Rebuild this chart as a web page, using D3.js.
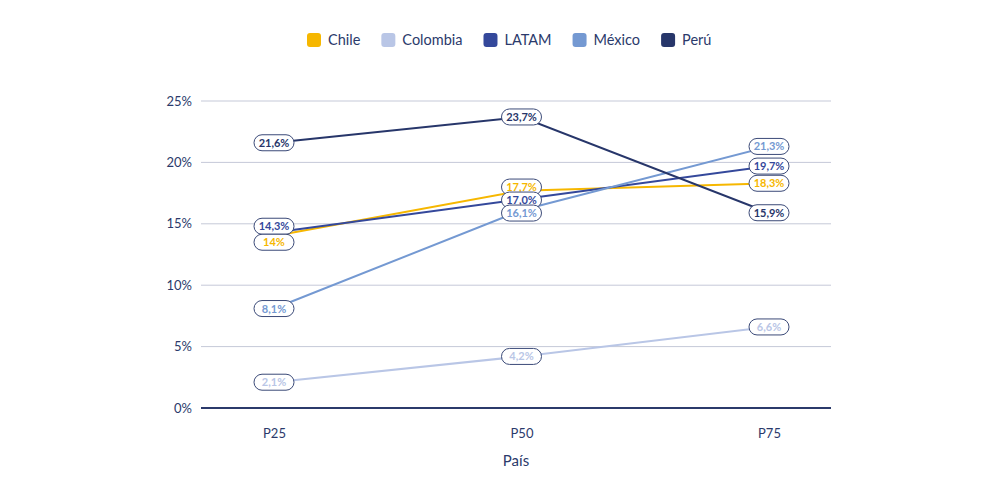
<!DOCTYPE html>
<html>
<head>
<meta charset="utf-8">
<script src="https://cdn.jsdelivr.net/npm/d3@7"></script>
<style>
	body{margin:0;background:#fff;font-family:Lato,"Open Sans",sans-serif;}
</style>
</head>
<body>
<div id="chart-area"></div>
<script>
// data
const categories = ["P25","P50","P75"]
const seriesNames = ["Chile","Colombia","LATAM","México","Perú"]
const chile = [14.0,17.7,18.3]
const colombia = [2.1,4.2,6.6]
const latam = [14.3,17.0,19.7]
const mexico = [8.1,16.1,21.3]
const peru = [21.6,23.7,15.9]
const yTicks = [0,5,10,15,20,25]
const colors = ["#f6b700","#b9c6e6","#34489b","#7499d2","#27366a"]

const series = seriesNames.map((name,i)=>({
	name:name,
	color:colors[i],
	values:[chile,colombia,latam,mexico,peru][i]
}))

const WIDTH = 1000
const HEIGHT = 500
const TEXT = "#2b3a6b"

const svg = d3.select("#chart-area").append("svg")
	.attr("width",WIDTH)
	.attr("height",HEIGHT)

const x = d3.scalePoint()
	.domain(categories)
	.range([274,769])

const y = d3.scaleLinear()
	.domain([0,25])
	.range([408,101])

// gridlines
svg.append("g").selectAll("line")
	.data(yTicks.filter(d=>d>0))
	.enter().append("line")
	.attr("x1",201).attr("x2",831)
	.attr("y1",d=>y(d)).attr("y2",d=>y(d))
	.attr("stroke","#c5c9d8")
	.attr("stroke-width",1)

// y axis labels
const yAxisGroup = svg.append("g")
	.attr("transform","translate(201,0)")
yAxisGroup.call(d3.axisLeft(y).tickValues(yTicks).tickFormat(d=>d+"%").tickSize(0).tickPadding(9))
yAxisGroup.select(".domain").remove()
yAxisGroup.selectAll("text")
	.attr("fill",TEXT)
	.style("font-family","Lato, sans-serif")
	.style("font-size","13px")

// x axis labels
const xAxisGroup = svg.append("g")
	.attr("transform","translate(0,408)")
xAxisGroup.call(d3.axisBottom(x).tickSize(0).tickPadding(21))
xAxisGroup.select(".domain").remove()
xAxisGroup.selectAll("text")
	.attr("fill",TEXT)
	.style("font-family","Lato, sans-serif")
	.style("font-size","13px")

svg.append("text")
	.attr("x",516)
	.attr("y",466)
	.attr("text-anchor","middle")
	.attr("fill",TEXT)
	.style("font-size","15px")
	.text("País")

// zero line
svg.append("line")
	.attr("x1",201).attr("x2",831)
	.attr("y1",y(0)).attr("y2",y(0))
	.attr("stroke","#2b3a6b")
	.attr("stroke-width",2)

// lines
const line = d3.line()
	.x((d,i)=>x(categories[i]))
	.y(d=>y(d))

svg.append("g").selectAll("path")
	.data(series)
	.enter().append("path")
	.attr("fill","none")
	.attr("stroke",d=>d.color)
	.attr("stroke-width",2)
	.attr("d",d=>line(d.values))

// labels: push apart ones that sit too close (a few relaxation passes)
const labels = []
categories.forEach((cat,ci)=>{
	const items = series.map((s,si)=>({s:s,si:si,v:s.values[ci],cx:x(cat),cy:y(s.values[ci])}))
	items.sort((a,b)=>a.cy-b.cy)
	const raw = items.map(it=>it.cy)
	for(let pass=0;pass<20;pass++){
		for(let k=1;k<items.length;k++){
			const d = items[k].cy-items[k-1].cy
			// almost identical values get a full label height between them
			const need = (raw[k]-raw[k-1])<6 ? 16 : 13
			if(d<need){
				const gap = need-d
				items[k-1].cy -= gap/2
				items[k].cy += gap/2
			}
		}
	}
	items.forEach(it=>labels.push(it))
})

const fmt = v => (v===14 ? "14" : v.toFixed(1).replace(".",",")) + "%"

const labelG = svg.append("g")
labels.forEach(it=>{
	const g = labelG.append("g")
		.attr("transform",`translate(${it.cx},${it.cy})`)
	g.append("text")
		.attr("text-anchor","middle")
		.attr("dy","0.36em")
		.attr("fill",it.s.color)
		.style("font-size","11px")
		.style("font-weight","bold")
		.text(fmt(it.v))
	g.insert("rect","text")
		.attr("x",-20)
		.attr("y",-8)
		.attr("width",40)
		.attr("height",16)
		.attr("rx",8)
		.attr("fill","#fff")
		.attr("stroke","#3b4a78")
		.attr("stroke-width",1)
})

// legend
const legend = svg.append("g")
	.attr("transform","translate(307,40)")
let lx = 0
seriesNames.forEach((name,i)=>{
	const row = legend.append("g")
		.attr("transform",`translate(${lx},0)`)
	row.append("rect")
		.attr("x",0).attr("y",-7)
		.attr("width",14).attr("height",14)
		.attr("rx",3)
		.attr("fill",colors[i])
	const t = row.append("text")
		.attr("x",21)
		.attr("dy","0.35em")
		.attr("fill",TEXT)
		.style("font-size","14.5px")
		.text(name)
	lx += 21 + t.node().getComputedTextLength() + 21
})
</script>
</body>
</html>
